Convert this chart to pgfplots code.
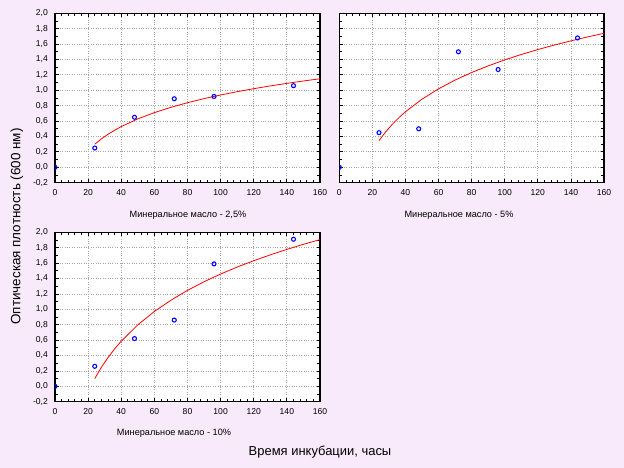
\documentclass[border=0pt]{standalone}
\usepackage{pgfplots}
\pgfplotsset{compat=1.18}
\usepackage{fontspec}
\setmainfont{Liberation Sans}
\definecolor{bgcol}{RGB}{248,234,250}
\definecolor{gridcol}{RGB}{165,165,165}
\pgfplotsset{panel/.style={
  scale only axis, width=265bp, height=169.4bp,
  xmin=0, xmax=160, ymin=-0.2, ymax=2.0,
  xtick={0,20,40,60,80,100,120,140,160},
  ytick={-0.2,0,0.2,0.4,0.6,0.8,1.0,1.2,1.4,1.6,1.8,2.0},
  minor x tick num=4, minor y tick num=1,
  tick align=inside,
  major tick length=3.5bp, minor tick length=3bp,
  grid=major,
  major grid style={dotted, gridcol, line width=0.8bp},
  axis line style={line width=1.2bp},
  every tick/.style={black, line width=0.8bp},
  axis background/.style={fill=white},
  tick label style={font=\fontsize{8.6}{10}\selectfont},
  /pgf/number format/assume math mode=true,
  xticklabel style={inner sep=0pt, yshift=-7bp},
  yticklabel style={inner sep=0pt, xshift=-7bp,
    /pgf/number format/.cd, fixed, fixed zerofill, precision=1, use comma},
  clip marker paths=true,
  anchor=south west,
}}
\pgfplotsset{pts/.style={only marks, mark=o, mark size=2bp, color=blue, mark options={line width=1.1bp}},
  fit/.style={no marks, red, line width=0.8bp}}
\begin{document}
\begin{tikzpicture}
\fill[bgcol] (0,0) rectangle (624bp,468bp);
% Panel 1
\begin{axis}[panel, at={(55bp,285.3bp)}]
\addplot[fit] coordinates {(24,0.300) (28,0.369) (32,0.429) (36,0.481) (40,0.529) (50,0.629) (60,0.710) (70,0.779) (80,0.839) (90,0.892) (100,0.939) (110,0.982) (120,1.021) (130,1.057) (140,1.090) (150,1.121) (160,1.150)};
\addplot[pts] coordinates {(0,0.0) (24,0.25) (48,0.65) (72,0.89) (96,0.92) (144,1.06)};
\end{axis}
% Panel 2
\begin{axis}[panel, at={(339.3bp,285.3bp)}, width=264.7bp, yticklabels={}]
\addplot[fit] coordinates {(24,0.346) (28,0.459) (32,0.557) (36,0.644) (40,0.721) (50,0.885) (60,1.019) (70,1.133) (80,1.231) (90,1.317) (100,1.395) (110,1.465) (120,1.529) (130,1.588) (140,1.642) (150,1.693) (160,1.740)};
\addplot[pts] coordinates {(0,0.0) (24,0.45) (48,0.50) (72,1.50) (96,1.27) (144,1.68)};
\end{axis}
% Panel 3
\begin{axis}[panel, at={(55bp,66.3bp)}]
\addplot[fit] coordinates {(24,0.100) (28,0.247) (32,0.374) (36,0.486) (40,0.586) (50,0.798) (60,0.972) (70,1.118) (80,1.246) (90,1.358) (100,1.458) (110,1.549) (120,1.631) (130,1.707) (140,1.778) (150,1.844) (160,1.905)};
\addplot[pts] coordinates {(0,0.0) (24,0.26) (48,0.62) (72,0.86) (96,1.59) (144,1.91)};
\end{axis}
\node[font=\fontsize{9.2}{11}\selectfont, inner sep=0pt] at (188bp,253bp) {Минеральное масло - 2,5\%};
\node[font=\fontsize{9.2}{11}\selectfont, inner sep=0pt] at (459bp,253bp) {Минеральное масло - 5\%};
\node[font=\fontsize{9.2}{11}\selectfont, inner sep=0pt] at (174bp,34.7bp) {Минеральное масло - 10\%};
\node[font=\fontsize{13}{15}\selectfont, inner sep=0pt] at (320bp,16.3bp) {Время инкубации, часы};
\node[font=\fontsize{13.5}{15}\selectfont, inner sep=0pt, rotate=90] at (17bp,241.5bp) {Оптическая плотность (600 нм)};
\pgfresetboundingbox
\path[use as bounding box] (0,0) rectangle (624bp,468bp);
\end{tikzpicture}
\end{document}
